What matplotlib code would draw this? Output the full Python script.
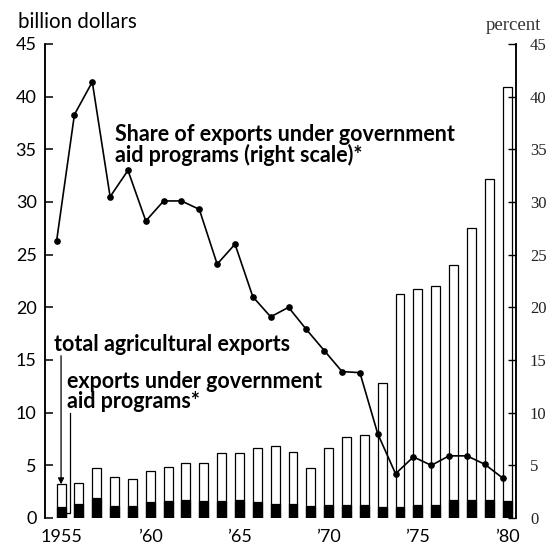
import matplotlib.pyplot as plt
import numpy as np

# values
years = np.arange(1955, 1981)
total_exports = [3.2, 3.3, 4.7, 3.9, 3.7, 4.5, 4.8, 5.2, 5.2, 6.2,
                 6.2, 6.6, 6.8, 6.3, 4.7, 6.6, 7.7, 7.9, 12.8, 21.3,
                 21.7, 22.0, 24.0, 27.5, 32.2, 40.9]
aid_exports = [1.0, 1.3, 1.9, 1.1, 1.1, 1.5, 1.6, 1.7, 1.6, 1.6,
               1.7, 1.5, 1.3, 1.3, 1.1, 1.2, 1.2, 1.2, 1.0, 1.0,
               1.2, 1.2, 1.7, 1.7, 1.7, 1.6]
aid_share = [26.3, 38.3, 41.4, 30.5, 33.0, 28.2, 30.1, 30.1, 29.3, 24.1,
             26.0, 21.0, 19.1, 20.0, 17.9, 15.9, 13.9, 13.8, 8.0, 4.2,
             5.8, 5.0, 5.9, 5.9, 5.1, 3.8]
tick_years = [1955, 1960, 1965, 1970, 1975, 1980]
tick_labels = ['1955', '\u201960', '\u201965', '\u201970', '\u201975', '\u201980']

sans = 'Lato'
serif = 'Liberation Serif'

fig = plt.figure(figsize=(5.6, 5.44), dpi=100)
ax = fig.add_axes([45/560, 1 - 518/544, 471/560, 474/544])
ax2 = ax.twinx()

# bars
ax.bar(years, total_exports, width=0.5, color='white', edgecolor='black', linewidth=0.9, zorder=2)
ax.bar(years, aid_exports, width=0.5, color='black', edgecolor='black', linewidth=0.9, zorder=3)

# share line on right scale
ax2.plot(years - 0.25, aid_share, color='black', linewidth=1.2, marker='o', markersize=3.8)

ax.set_xlim(1954.1, 1980.5)
ax.set_ylim(0, 45)
ax2.set_ylim(0, 45)

for a in (ax, ax2):
    a.spines['top'].set_visible(False)
    a.spines['bottom'].set_visible(False)
    a.spines['left'].set_linewidth(1.1)
    a.spines['right'].set_linewidth(1.1)

ax.set_yticks(np.arange(0, 46, 5))
ax.tick_params(axis='y', direction='in', length=6, width=1.1, pad=6, labelsize=13)
for t in ax.get_yticklabels():
    t.set_family(sans)

ax2.set_yticks(np.arange(0, 46, 5))
ax2.tick_params(axis='y', direction='in', length=6, width=1.0, pad=10, labelsize=12, labelcolor='#222222')
for t in ax2.get_yticklabels():
    t.set_family(serif)

ax.set_xticks(tick_years)
ax.set_xticklabels(tick_labels, family=sans, fontsize=13)
ax.set_xticks([1960, 1965, 1970, 1975], minor=True)
ax.tick_params(axis='x', which='major', length=0, pad=8)
ax.tick_params(axis='x', which='minor', length=4, width=0.8, direction='out')

# texts
fig.text(18/560, 1 - 22/544, 'billion dollars', family=sans, fontsize=14.8, va='center', ha='left')
fig.text(541/560, 1 - 25/544, 'percent', family=serif, fontsize=13.5, va='center', ha='right', color='#333333')

ax.text(1958.0, 37.4, 'Share of exports under government\naid programs (right scale)*',
        family=sans, fontweight='bold', fontsize=15.5, va='top', ha='left', linespacing=0.95, zorder=5)
ax.text(1954.6, 17.5, 'total agricultural exports',
        family=sans, fontweight='bold', fontsize=15.5, va='top', ha='left', zorder=5)
ax.text(1955.35, 14.0, 'exports under government\naid programs*',
        family=sans, fontweight='bold', fontsize=15.5, va='top', ha='left', linespacing=0.95, zorder=5)

# pointers to the 1955 bar
ax.annotate('', xy=(1955, 3.2), xytext=(1955, 15.4),
            arrowprops=dict(arrowstyle='-|>', color='black', lw=0.9, mutation_scale=9, shrinkA=0, shrinkB=0),
            zorder=5)
ax.plot([1955.5, 1955.5, 1955.3], [10.0, 0.5, 0.5], color='black', linewidth=0.9, zorder=5)

fig.savefig('out.png', dpi=100)
